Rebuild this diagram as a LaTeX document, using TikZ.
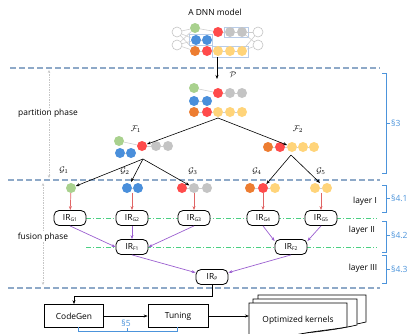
\documentclass[tikz,border=0pt]{standalone}
\usepackage{fontspec}
\setmainfont{Open Sans}
\usetikzlibrary{arrows.meta}
\definecolor{cgreen}{HTML}{A9D18E}
\definecolor{cblue}{HTML}{4A8FDB}
\definecolor{corange}{HTML}{ED7D31}
\definecolor{cred}{HTML}{FF4B4B}
\definecolor{cgray}{HTML}{C4C4C4}
\definecolor{cyellow}{HTML}{FFD47A}
\definecolor{dashblue}{HTML}{8EA9C8}
\definecolor{dgreen}{HTML}{4CD083}
\definecolor{cpurple}{HTML}{9B5FD0}
\definecolor{arrred}{HTML}{E06464}
\definecolor{secblue}{HTML}{4C94DB}
\definecolor{boxblue}{HTML}{B8CCE8}
\newcommand{\irlab}[1]{IR\raisebox{-0.4ex}{\fontsize{5}{5}\selectfont #1}}
\begin{document}
\begin{tikzpicture}[x=1pt,y=-1pt,font=\fontsize{8.4}{10}\selectfont,
  dotn/.style={circle,minimum size=10pt,inner sep=0pt},
  gdot/.style={dotn,fill=cgreen},
  bdot/.style={dotn,fill=cblue},
  odot/.style={dotn,fill=corange},
  rdot/.style={dotn,fill=cred},
  ydot/.style={dotn,fill=cyellow},
  adot/.style={dotn,fill=cgray},
  wdot/.style={dotn,fill=white,draw=cgray,line width=0.6pt},
  link/.style={draw=cgray!85,line width=0.6pt},
  sepline/.style={dashblue,line width=1.4pt,dash pattern=on 6pt off 3pt},
  levline/.style={dgreen,line width=1pt,dash pattern=on 5pt off 2pt on 1pt off 2pt},
  irbox/.style={draw,line width=0.8pt,rounded corners=5pt,fill=white,minimum width=32pt,minimum height=15pt,inner sep=0pt},
  pbox/.style={draw,line width=0.7pt,fill=white,minimum height=23pt,inner sep=0pt},
  blk/.style={-{Stealth[length=4pt,width=3pt]},line width=0.6pt},
  redarr/.style={-{Stealth[length=4pt,width=3pt]},arrred,line width=0.7pt},
  purarr/.style={-{Stealth[length=4pt,width=3pt]},cpurple,line width=0.7pt},
  phasearr/.style={{Stealth[length=3pt,width=2.5pt]}-{Stealth[length=3pt,width=2.5pt]},gray!45,line width=0.5pt,dash pattern=on 1.5pt off 1pt},
  brk/.style={secblue,line width=0.8pt},
  sectxt/.style={text=secblue,font=\fontsize{8.5}{10}\selectfont,inner sep=1pt},
  sheet/.style={draw,line width=0.7pt,fill=white}
]
\clip (0,0) rectangle (412,333);
\useasboundingbox (0,0) rectangle (412,333);

% ---------- A DNN model ----------
\node (title) at (215,12) {A DNN model};
\draw[boxblue,line width=0.6pt] (189,34) rectangle (212,45);
\draw[boxblue,line width=0.6pt] (224,27) rectangle (248,37);
\draw[boxblue,line width=0.6pt] (212,46) rectangle (248,57);
\node[wdot] (wl1) at (177,32) {};
\node[wdot] (wl2) at (177,45) {};
\node[wdot] (wr1) at (258,32) {};
\node[wdot] (wr2) at (258,45) {};
\node[gdot] (mg) at (195,28) {};
\node[bdot] (mb1) at (196,40) {};
\node[bdot] (mb2) at (207,40) {};
\node[odot] (mo) at (195,51) {};
\node[rdot] (mr1) at (207,51) {};
\node[rdot] (mr2) at (218,32) {};
\node[adot] (ma1) at (230,32) {};
\node[adot] (ma2) at (242,32) {};
\node[ydot] (my1) at (218,51) {};
\node[ydot] (my2) at (230,51) {};
\node[ydot] (my3) at (242,51) {};
\draw[link] (wl1) -- (mg); \draw[link] (wl1) -- (mb1); \draw[link] (wl1) -- (mo);
\draw[link] (wl2) -- (mg); \draw[link] (wl2) -- (mb1); \draw[link] (wl2) -- (mo);
\draw[link] (ma2) -- (wr1); \draw[link] (ma2) -- (wr2);
\draw[link] (my3) -- (wr1); \draw[link] (my3) -- (wr2);
\draw[link] (mg) -- (mr2); \draw[link] (mr2) -- (ma1) -- (ma2);
\draw[link] (mb1) -- (mb2); \draw[link] (mo) -- (mr1) -- (my1) -- (my2) -- (my3);

% ---------- separators ----------
\coordinate (s1a) at (10,68); \coordinate (s1b) at (380,68);
\coordinate (s2a) at (8,180); \coordinate (s2b) at (380,180);
\coordinate (s3a) at (8,288); \coordinate (s3b) at (380,288);
\draw[sepline] (s1a) -- (s1b);
\draw[sepline] (s2a) -- (s2b);
\draw[sepline] (s3a) -- (s3b);

% ---------- partition ----------
\coordinate (dnnout) at (217,57);
\coordinate (pin) at (217,79);
\draw[blk] (dnnout) -- (pin);
\node (plab) at (233,75) {$\mathcal{P}$};
\node[gdot] (pg) at (194,88) {};
\node[rdot] (pr) at (218,93) {};
\node[adot] (pa1) at (230,93) {};
\node[adot] (pa2) at (242,93) {};
\node[bdot] (pb1) at (194,101) {};
\node[bdot] (pb2) at (207,101) {};
\node[odot] (po) at (194,112) {};
\node[rdot] (pr2) at (207,112) {};
\node[ydot] (py1) at (218,112) {};
\node[ydot] (py2) at (230,112) {};
\node[ydot] (py3) at (242,112) {};
\draw[link] (pg) -- (pr); \draw[link] (pr) -- (pa1) -- (pa2);
\draw[link] (pb1) -- (pb2); \draw[link] (po) -- (pr2) -- (py1) -- (py2) -- (py3);
\coordinate (papex) at (218,118);

% F1 / F2
\node (f1lab) at (136,129) {$\mathcal{F}_1$};
\node (f2lab) at (298,129) {$\mathcal{F}_2$};
\node[gdot] (f1g) at (119,141) {};
\node[rdot] (f1r) at (142,146) {};
\node[adot] (f1a1) at (156,146) {};
\node[adot] (f1a2) at (168,146) {};
\node[bdot] (f1b1) at (120,153) {};
\node[bdot] (f1b2) at (131,153) {};
\draw[link] (f1g) -- (f1r); \draw[link] (f1r) -- (f1a1) -- (f1a2);
\draw[link] (f1b1) -- (f1b2);
\node[odot] (f2o) at (268,147) {};
\node[rdot] (f2r) at (280,147) {};
\node[ydot] (f2y1) at (292,147) {};
\node[ydot] (f2y2) at (303,147) {};
\node[ydot] (f2y3) at (314,147) {};
\draw[link] (f2o) -- (f2r) -- (f2y1) -- (f2y2) -- (f2y3);
\draw[blk] (papex) -- (f1r);
\draw[blk] (papex) -- (f2y1);

% G labels
\node (g1lab) at (64,170) {$\mathcal{G}_1$};
\node (g2lab) at (125,171) {$\mathcal{G}_2$};
\node (g3lab) at (193,171) {$\mathcal{G}_3$};
\node (g4lab) at (257,171) {$\mathcal{G}_4$};
\node (g5lab) at (321,171) {$\mathcal{G}_5$};

% G nodes
\node[gdot] (g1) at (71,188) {};
\node[bdot] (g2a) at (127,188) {};
\node[bdot] (g2b) at (138,188) {};
\node[rdot] (g3a) at (182,188) {};
\node[adot] (g3b) at (194,188) {};
\node[adot] (g3c) at (207,188) {};
\node[odot] (g4a) at (250,188) {};
\node[rdot] (g4b) at (263,188) {};
\node[ydot] (g4c) at (275,188) {};
\node[ydot] (g5a) at (315,188) {};
\node[ydot] (g5b) at (327,188) {};
\draw[link] (g2a) -- (g2b); \draw[link] (g3a) -- (g3b) -- (g3c);
\draw[link] (g4a) -- (g4b) -- (g4c); \draw[link] (g5a) -- (g5b);

\coordinate (f1apex) at (143,159);
\coordinate (f2apex) at (291,155);
\coordinate (g2top) at (131,182);
\coordinate (g5top) at (320,183);
\draw[blk] (f1apex) -- (g1);
\draw[blk] (f1apex) -- (g2top);
\draw[blk] (f1apex) -- (g3b);
\draw[blk] (f2apex) -- (g4b);
\draw[blk] (f2apex) -- (g5top);

% ---------- fusion ----------
\coordinate (l1a) at (86,218.5); \coordinate (l1b) at (377,218.5);
\coordinate (l2a) at (86,247.5); \coordinate (l2b) at (377,247.5);
\draw[levline] (l1a) -- (l1b);
\draw[levline] (l2a) -- (l2b);

\node[irbox] (irg1) at (70,218) {\irlab{G1}};
\node[irbox] (irg2) at (132,218) {\irlab{G2}};
\node[irbox] (irg3) at (194,218) {\irlab{G3}};
\node[irbox] (irg4) at (263,218) {\irlab{G4}};
\node[irbox] (irg5) at (321,218) {\irlab{G5}};
\node[irbox] (irf1) at (132,247) {\irlab{F1}};
\node[irbox] (irf2) at (291,247) {\irlab{F2}};
\node[irbox] (irp) at (212,277) {\irlab{P}};

\coordinate (g2bot) at (132,193);
\coordinate (g5bot) at (321,193);
\draw[redarr] (g1) -- (irg1);
\draw[redarr] (g2bot) -- (irg2);
\draw[redarr] (g3b) -- (irg3);
\draw[redarr] (g4b) -- (irg4);
\draw[redarr] (g5bot) -- (irg5);

\draw[purarr] (irg1.south) -- (irf1.west);
\draw[purarr] (irg2.south) -- (irf1.north);
\draw[purarr] (irg3.south) -- (irf1.east);
\draw[purarr] (irg4.south) -- (irf2.160);
\draw[purarr] (irg5.south) -- (irf2.20);
\draw[purarr] (irf1.south) -- (irp.165);
\draw[purarr] (irf2.south) -- (irp.15);

% ---------- layer labels & brackets ----------
\node (lay1) at (365,201) {layer I};
\node (lay2) at (362,230) {layer II};
\node (lay3) at (363,268) {layer III};

\draw[brk] (382,73) -- (386,73) -- (386,173) -- (382,173);
\draw[brk] (386,123) -- (390,123);
\node[sectxt,anchor=west] (sec3) at (390,123) {§3};
\draw[brk] (382,185) -- (386,185) -- (386,212) -- (382,212);
\draw[brk] (386,198) -- (390,198);
\node[sectxt,anchor=west] (sec41) at (390,198) {§4.1};
\draw[brk] (382,221) -- (386,221) -- (386,252) -- (382,252);
\draw[brk] (386,235) -- (390,235);
\node[sectxt,anchor=west] (sec42) at (390,235) {§4.2};
\draw[brk] (382,255) -- (386,255) -- (386,283) -- (382,283);
\draw[brk] (386,269) -- (390,269);
\node[sectxt,anchor=west] (sec43) at (390,269) {§4.3};

% ---------- phases ----------
\coordinate (pp1) at (49,70); \coordinate (pp2) at (49,178);
\draw[phasearr] (pp1) -- (pp2);
\node[fill=white,inner sep=1pt] (ptxt) at (48,113) {partition phase};
\coordinate (fp1) at (43,183); \coordinate (fp2) at (43,285);
\draw[phasearr] (fp1) -- (fp2);
\node[fill=white,inner sep=1pt] (ftxt) at (43,237) {fusion phase};

% ---------- code generation ----------
\node[pbox,minimum width=59pt] (cg) at (74,316) {CodeGen};
\node[pbox,minimum width=60pt] (tun) at (178,316) {Tuning};
\coordinate (bend1) at (212,296);
\coordinate (bend2) at (74,296);
\draw[blk] (irp.south) -- (bend1) -- (bend2) -- (cg.north);
\draw[blk] (cg) -- (tun);

\draw[sheet] (258,295) -- (366,295) -- (366,322) .. controls (345,327) and (300,333) .. (258,334) -- cycle;
\draw[sheet] (253,299) -- (357,299) -- (357,325) .. controls (335,330) and (300,335) .. (253,336) -- cycle;
\draw[sheet] (249,303) -- (347,303) -- (347,327) .. controls (330,330) and (315,331) .. (300,334) .. controls (285,337) and (265,338) .. (249,340) -- cycle;
\node (ok) at (298,320) {Optimized kernels};
\coordinate (okin) at (249,316);
\draw[blk] (tun) -- (okin);

\draw[brk] (78,327) -- (78,331) -- (177,331) -- (177,327);
\draw[brk] (127,331) -- (127,328);
\node[sectxt] (sec5) at (126,323) {§5};
\end{tikzpicture}
\end{document}
